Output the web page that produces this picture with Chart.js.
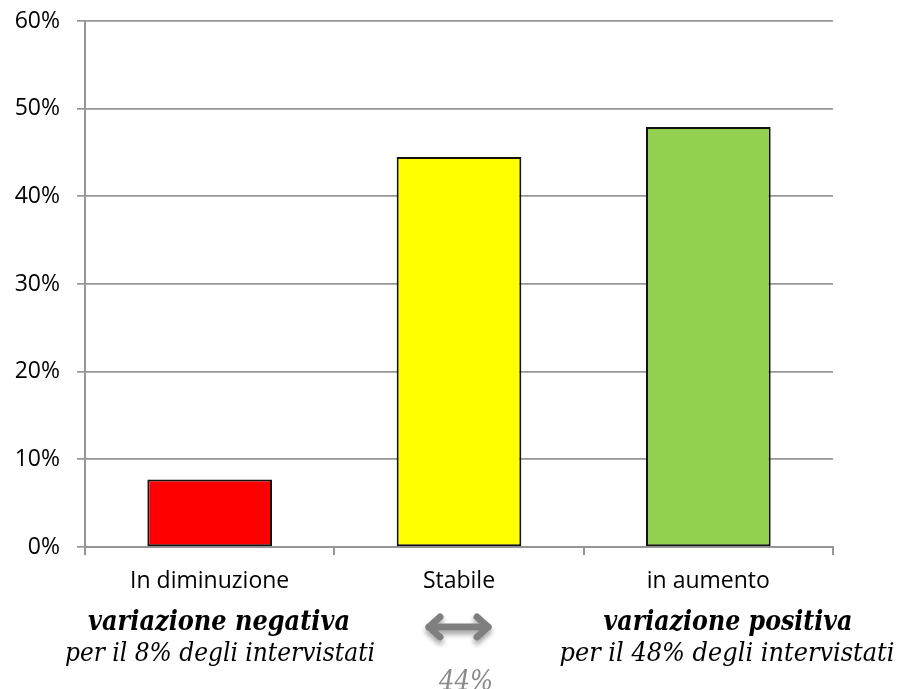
<!DOCTYPE html>
<html lang="it">

<head>
    <meta charset="UTF-8">
    <title>Variazione</title>
    <script src="https://cdn.jsdelivr.net/npm/chart.js"></script>
    <style>
        body {
            margin: 0;
            background: #fff;
        }

        #wrap {
            position: relative;
            width: 899px;
            height: 689px;
        }

        #variazione-chart {
            position: absolute;
            left: 0;
            top: 0;
        }

        /* annotations under the axis */
        #notes {
            position: absolute;
            left: 0;
            top: 0;
            pointer-events: none;
        }

        #notes .title {
            font-family: "DejaVu Serif", serif;
            font-weight: bold;
            font-style: italic;
            font-size: 28px;
            fill: #000;
        }

        #notes .line {
            font-family: "DejaVu Serif", serif;
            font-style: italic;
            font-size: 26px;
            fill: #000;
        }

        #notes .stable {
            font-family: "DejaVu Serif", serif;
            font-style: italic;
            font-size: 27px;
            fill: #8a8a8a;
        }
    </style>
</head>

<body>
    <div id="wrap">
        <canvas id="variazione-chart" width="899" height="689"></canvas>
        <svg id="notes" width="899" height="689">
            <defs>
                <filter id="shadow" x="-20%" y="-50%" width="140%" height="220%">
                    <feDropShadow dx="0" dy="4" stdDeviation="2.5" flood-color="#000" flood-opacity="0.35" />
                </filter>
            </defs>
            <text id="title-neg" class="title" x="219" y="630" text-anchor="middle" textLength="262" lengthAdjust="spacingAndGlyphs"></text>
            <text id="line-neg" class="line" x="220" y="661" text-anchor="middle" textLength="310" lengthAdjust="spacingAndGlyphs"></text>
            <text id="title-pos" class="title" x="728" y="630" text-anchor="middle" textLength="249" lengthAdjust="spacingAndGlyphs"></text>
            <text id="line-pos" class="line" x="727" y="661" text-anchor="middle" textLength="335" lengthAdjust="spacingAndGlyphs"></text>
            <g filter="url(#shadow)" stroke="#7f7f7f" stroke-width="7" stroke-linecap="round" stroke-linejoin="round" fill="none">
                <path d="M429 627 H488" />
                <path d="M440 617 L429 627 L440 637" />
                <path d="M477 617 L488 627 L477 637" />
            </g>
            <text id="stable-share" class="stable" x="466" y="690" text-anchor="middle" textLength="54" lengthAdjust="spacingAndGlyphs"></text>
        </svg>
    </div>

    <script>
        // data
        const categories = ['In diminuzione', 'Stabile', 'in aumento'];
        const shares = [7.7, 44.5, 47.9];
        const barColors = ['#FF0000', '#FFFF00', '#92D050'];
        const yMax = 60;
        const yStep = 10;

        const noteTitles = ['variazione negativa', 'variazione positiva'];
        const noteLines = ['per il 8% degli intervistati', 'per il 48% degli intervistati'];
        const stableLabel = '44%';

        document.getElementById('title-neg').textContent = noteTitles[0];
        document.getElementById('title-pos').textContent = noteTitles[1];
        document.getElementById('line-neg').textContent = noteLines[0];
        document.getElementById('line-pos').textContent = noteLines[1];
        document.getElementById('stable-share').textContent = stableLabel;

        const gridGrey = '#969696';

        const ctx = document.getElementById('variazione-chart').getContext('2d');

        new Chart(ctx, {
            type: 'bar',
            data: {
                labels: categories,
                datasets: [{
                    data: shares,
                    backgroundColor: barColors,
                    borderColor: '#111',
                    borderWidth: 2,
                    borderSkipped: false,
                    categoryPercentage: 1.0,
                    barPercentage: 0.5
                }]
            },
            options: {
                responsive: false,
                devicePixelRatio: 1,
                animation: false,
                layout: {
                    padding: { top: 21, right: 66, left: 0, bottom: 0 }
                },
                plugins: {
                    legend: { display: false },
                    tooltip: { enabled: false }
                },
                scales: {
                    x: {
                        afterFit: (scale) => { scale.height = 142; },
                        grid: {
                            offset: true,
                            drawOnChartArea: false,
                            drawTicks: true,
                            tickLength: 8,
                            color: gridGrey,
                            lineWidth: 2
                        },
                        border: { color: gridGrey, width: 2 },
                        ticks: {
                            color: '#000',
                            padding: 13,
                            maxRotation: 0,
                            font: { family: 'Open Sans', size: 23 }
                        }
                    },
                    y: {
                        min: 0,
                        max: yMax,
                        afterFit: (scale) => {
                            scale.width = 85;
                            // keep the plot top where the layout padding puts it
                            scale.paddingTop = 0;
                            scale.paddingBottom = 0;
                        },
                        grid: {
                            color: gridGrey,
                            lineWidth: 1.7,
                            tickLength: 8
                        },
                        border: { color: gridGrey, width: 2 },
                        ticks: {
                            stepSize: yStep,
                            color: '#000',
                            padding: 17,
                            font: { family: 'Open Sans', size: 23 },
                            callback: (v) => v + '%'
                        }
                    }
                }
            }
        });
    </script>
</body>

</html>
